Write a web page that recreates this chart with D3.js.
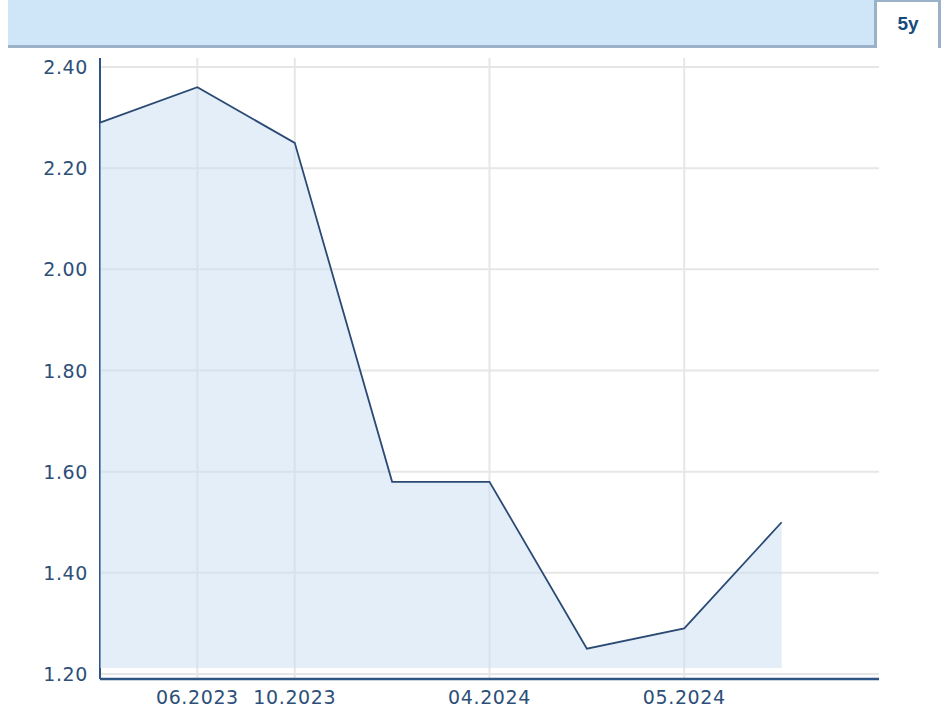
<!DOCTYPE html>
<html>
<head>
<meta charset="utf-8">
<script src="https://cdn.jsdelivr.net/npm/d3@7"></script>
<style>
  body { margin: 0; background: #fff; }
  svg { display: block; }
</style>
</head>
<body>
<div id="chart"></div>
<script>
// one value per period, x positions are just the index
var values = [2.29, 2.36, 2.25, 1.58, 1.58, 1.25, 1.29, 1.50];
var xLabels = ["", "06.2023", "10.2023", "", "04.2024", "", "05.2024", "", ""];
var yTicks = [1.20, 1.40, 1.60, 1.80, 2.00, 2.20, 2.40];
var areaBase = 1.212;
var tabLabel = "5y";

function init() {
    var W = 946, H = 713;
    var left = 100, right = 879, top = 58, bottom = 679;

    var svg = d3.select("#chart")
        .append("svg")
        .attr("width", W)
        .attr("height", H);

    // header bar + tab
    svg.append("rect")
        .attr("x", 8).attr("y", 0)
        .attr("width", 867).attr("height", 46)
        .attr("fill", "#cfe5f8");
    svg.append("rect")
        .attr("x", 8).attr("y", 45)
        .attr("width", 868).attr("height", 3)
        .attr("fill", "#9bb1c8");
    svg.append("rect")
        .attr("x", 874).attr("y", 0)
        .attr("width", 3).attr("height", 48)
        .attr("fill", "#9bb1c8");
    svg.append("rect")
        .attr("x", 877).attr("y", 0)
        .attr("width", 63).attr("height", 2)
        .attr("fill", "#9bb1c8");
    svg.append("rect")
        .attr("x", 938).attr("y", 0)
        .attr("width", 3).attr("height", 48)
        .attr("fill", "#9bb1c8");
    svg.append("text")
        .attr("x", 908).attr("y", 30)
        .attr("text-anchor", "middle")
        .attr("fill", "#174a7c")
        .style("font-family", "'Liberation Sans', Arial, sans-serif")
        .style("font-weight", "bold")
        .style("font-size", "19px")
        .text(tabLabel);

    var xScale = d3.scaleLinear()
        .domain([0, xLabels.length - 1])
        .range([left, right]);

    var yScale = d3.scaleLinear()
        .domain([1.2, 2.4])
        .range([674, 67]);

    // grid
    svg.append("g")
        .selectAll("line")
        .data(yTicks)
        .join("line")
        .attr("x1", left).attr("x2", right)
        .attr("y1", d => yScale(d)).attr("y2", d => yScale(d))
        .attr("stroke", "#e6e6e6")
        .attr("stroke-width", 2);

    var labelled = xLabels.map((l, i) => ({l: l, i: i})).filter(d => d.l !== "");

    svg.append("g")
        .selectAll("line")
        .data(labelled)
        .join("line")
        .attr("x1", d => xScale(d.i)).attr("x2", d => xScale(d.i))
        .attr("y1", top).attr("y2", bottom)
        .attr("stroke", "#e6e6e6")
        .attr("stroke-width", 2);

    // y axis line (sits under the area)
    svg.append("line")
        .attr("x1", left).attr("x2", left)
        .attr("y1", top).attr("y2", bottom)
        .attr("stroke", "#2e5584")
        .attr("stroke-width", 2);

    var area = d3.area()
        .x((d, i) => xScale(i))
        .y0(yScale(areaBase))
        .y1(d => yScale(d));

    svg.append("path")
        .datum(values)
        .attr("d", area)
        .attr("fill", "#c8def4")
        .attr("fill-opacity", 0.5);

    var line = d3.line()
        .x((d, i) => xScale(i))
        .y(d => yScale(d));

    svg.append("path")
        .datum(values)
        .attr("d", line)
        .attr("fill", "none")
        .attr("stroke", "#2b4a74")
        .attr("stroke-width", 1.8);

    // x axis line
    svg.append("line")
        .attr("x1", left).attr("x2", right)
        .attr("y1", bottom).attr("y2", bottom)
        .attr("stroke", "#2e5584")
        .attr("stroke-width", 2.5);

    // tick labels
    svg.append("g")
        .selectAll("text")
        .data(yTicks)
        .join("text")
        .attr("x", 88)
        .attr("y", d => yScale(d) + 7)
        .attr("text-anchor", "end")
        .attr("fill", "#2d4f78")
        .style("font-family", "'DejaVu Sans', Verdana, sans-serif")
        .style("font-size", "19px")
        .style("letter-spacing", "0.6px")
        .text(d => d3.format(".2f")(d));

    svg.append("g")
        .selectAll("text")
        .data(labelled)
        .join("text")
        .attr("x", d => xScale(d.i))
        .attr("y", 704)
        .attr("text-anchor", "middle")
        .attr("fill", "#2d4f78")
        .style("font-family", "'DejaVu Sans', Verdana, sans-serif")
        .style("font-size", "19px")
        .style("letter-spacing", "0.6px")
        .text(d => d.l);
}

window.onload = init;
</script>
</body>
</html>
